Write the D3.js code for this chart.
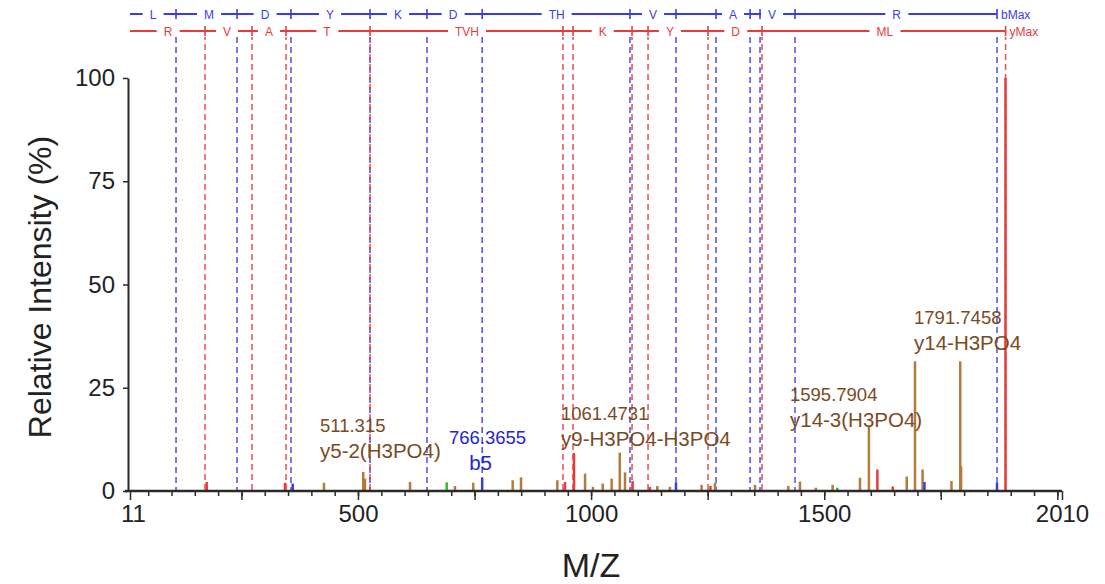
<!DOCTYPE html>
<html>
<head>
<meta charset="utf-8">
<script src="https://cdn.jsdelivr.net/npm/d3@7"></script>
<style>
  body { margin: 0; background: #fff; }
  text { font-family: "Liberation Sans", Arial, sans-serif; }
</style>
</head>
<body>
<script>
// peaks: [m/z, relative intensity %]
var brownPeaks = [[427, 2.0], [511.3, 4.6], [515, 3.0], [611.6, 2.2], [708, 1.2], [747.3, 2.0],
  [831.8, 2.6], [849.6, 3.3], [927.5, 2.6], [987, 4.2], [1004, 1.0], [1024.9, 1.8], [1044, 3.0],
  [1061.5, 9.3], [1072.7, 4.5], [1142, 1.2], [1169, 1.0], [1237, 1.5], [1265.8, 2.0], [1351.6, 1.5],
  [1423, 1.2], [1448, 2.3], [1482, 0.8], [1518, 1.5], [1576.7, 3.2], [1595.8, 15.6], [1677, 3.5],
  [1694.7, 31.4], [1711, 5.2], [1773, 2.4], [1791.7, 31.4], [1793.5, 6.0]];
var redPeaks = [[175.5, 2.2], [343.4, 2.0], [944, 2.2], [963.3, 9.2], [1089, 2.4], [1126, 1.0],
  [1256, 1.2], [1614, 5.2], [1647, 1.1], [1888.8, 100]];
var bluePeaks = [[360, 1.8], [766.4, 3.2], [1182, 2.0], [1715, 2.2], [1870.6, 2.0]];
var greenPeaks = [[690.3, 2.1], [1528, 0.8]];

// fragment ladder positions (m/z)
var bIons = [109.7, 240.5, 356.3, 525.8, 648, 766.4, 1083.4, 1182, 1268, 1341, 1362.3, 1437.4, 1870.6];
var yIons = [171.9, 272.7, 345.6, 525.8, 939.7, 961.2, 1087.8, 1122.1, 1250.8, 1366.6, 1889];
var bLabels = [["L", 60.3], ["M", 180.4], ["D", 300.5], ["Y", 440], ["K", 585.8], ["D", 703.8],
  ["TH", 926.2], ["V", 1132.8], ["A", 1304.4], ["V", 1388], ["R", 1655.4]];
var yLabels = [["R", 92.5], ["V", 219], ["A", 309], ["T", 433.5], ["TVH", 733.8], ["K", 1024.9],
  ["Y", 1169], ["D", 1310], ["ML", 1630]];

var annotations = [
  { mz: 418.5, inten: 14.3, lines: ["511.315", "y5-2(H3PO4)"], ion: "y", anchor: "start" },
  { mz: 778, inten: 11.4, lines: ["766.3655", "b5"], ion: "b", anchor: "middle" },
  { mz: 935.4, inten: 17.2, lines: ["1061.4731", "y9-H3PO4-H3PO4"], ion: "y", anchor: "start" },
  { mz: 1426.6, inten: 21.8, lines: ["1595.7904", "y14-3(H3PO4)"], ion: "y", anchor: "start" },
  { mz: 1692.6, inten: 40.4, lines: ["1791.7458", "y14-H3PO4"], ion: "y", anchor: "start" }
];

var xTickLabels = [11, 500, 1000, 1500, 2010];
var yTickLabels = [0, 25, 50, 75, 100];

var w = 1105, h = 584;
var axisColor = "#2a2a2a";
var blue = "#3c3ce6", red = "#e83c3c", brown = "#b47a3a", green = "#2fbf2f";

var svg = d3.select("body").append("svg")
  .attr("width", w).attr("height", h);

var x = d3.scaleLinear().domain([11, 2010]).range([130, 1062]);
var y = d3.scaleLinear().domain([0, 100]).range([491, 78]);

// dashed fragment lines
var dashTop = 37;
svg.selectAll(".bdash").data(bIons).enter().append("line")
  .attr("x1", d => x(d)).attr("x2", d => x(d))
  .attr("y1", dashTop).attr("y2", y(0))
  .attr("stroke", blue).attr("stroke-width", 1.6)
  .attr("stroke-dasharray", "6,4").attr("opacity", 0.85);
svg.selectAll(".ydash").data(yIons).enter().append("line")
  .attr("x1", d => x(d)).attr("x2", d => x(d))
  .attr("y1", dashTop).attr("y2", y(0))
  .attr("stroke", red).attr("stroke-width", 1.6)
  .attr("stroke-dasharray", "6,4").attr("stroke-dashoffset", 3).attr("opacity", 0.85);

// ladder
function ladder(ions, labels, ly, color, endText) {
  var g = svg.append("g");
  g.append("line")
    .attr("x1", x(11)).attr("x2", x(ions[ions.length - 1]))
    .attr("y1", ly).attr("y2", ly)
    .attr("stroke", color).attr("stroke-width", 1.8);
  g.selectAll(".tk").data(ions).enter().append("line")
    .attr("x1", d => x(d)).attr("x2", d => x(d))
    .attr("y1", ly - 5).attr("y2", ly + 5)
    .attr("stroke", color).attr("stroke-width", 1.6);
  labels.forEach(function (l) {
    var t = g.append("text")
      .attr("x", x(l[1])).attr("y", ly + 4.5)
      .attr("text-anchor", "middle")
      .attr("font-size", "12px")
      .attr("fill", color)
      .text(l[0]);
    var bb = t.node().getBBox();
    g.insert("rect", "text")
      .attr("x", bb.x - 7).attr("y", ly - 3)
      .attr("width", bb.width + 14).attr("height", 6)
      .attr("fill", "#fff");
  });
  g.append("text")
    .attr("x", x(ions[ions.length - 1]) + 4).attr("y", ly + 4.5)
    .attr("font-size", "12px").attr("fill", color)
    .text(endText);
}
ladder(bIons, bLabels, 14, blue, "bMax");
ladder(yIons, yLabels, 31, red, "yMax");

// peaks
function drawPeaks(data, color, sw) {
  svg.append("g").selectAll("line").data(data).enter().append("line")
    .attr("x1", d => x(d[0])).attr("x2", d => x(d[0]))
    .attr("y1", y(0)).attr("y2", d => y(d[1]))
    .attr("stroke", color).attr("stroke-width", sw);
}
drawPeaks(brownPeaks, brown, 2.5);
drawPeaks(greenPeaks, green, 2.5);
drawPeaks(bluePeaks, blue, 2.5);
drawPeaks(redPeaks, red, 2.5);

// axes
var xMinor = d3.range(50, 2001, 50);
var xMajor = d3.range(250, 2001, 250);
svg.append("g").attr("transform", `translate(0,${y(0)})`)
  .call(d3.axisBottom(x).tickValues(xMinor).tickSize(5).tickSizeOuter(0).tickFormat(""))
  .call(g => g.select(".domain").remove())
  .selectAll("line").attr("stroke", axisColor).attr("stroke-width", 1.5);
svg.append("g").attr("transform", `translate(0,${y(0)})`)
  .call(d3.axisBottom(x).tickValues(xMajor.concat([11, 2010])).tickSize(9).tickSizeOuter(0).tickFormat(""))
  .call(g => g.select(".domain").remove())
  .selectAll("line").attr("stroke", axisColor).attr("stroke-width", 1.5);
var xl = svg.append("g").attr("transform", `translate(0,${y(0)})`)
  .call(d3.axisBottom(x).tickValues(xTickLabels).tickSize(0).tickPadding(14).tickFormat(d3.format("d")));
xl.select(".domain").remove();
xl.selectAll("text").attr("font-size", "24px").attr("fill", "#222")
  .attr("font-family", "'Liberation Sans', Arial, sans-serif")
  .attr("dx", d => d === 11 ? 3 : 0);

svg.append("line")
  .attr("x1", 125).attr("x2", x(2010))
  .attr("y1", y(0)).attr("y2", y(0))
  .attr("stroke", axisColor).attr("stroke-width", 2.5);

var yl = svg.append("g").attr("transform", "translate(128,0)")
  .call(d3.axisLeft(y).tickValues(yTickLabels).tickSize(5).tickPadding(8).tickSizeOuter(0));
yl.select(".domain").attr("stroke", axisColor).attr("stroke-width", 2);
yl.selectAll("line").attr("stroke", axisColor).attr("stroke-width", 1.5);
yl.selectAll("text").attr("font-size", "24px").attr("fill", "#222")
  .attr("font-family", "'Liberation Sans', Arial, sans-serif");

// axis titles
svg.append("text")
  .attr("transform", "translate(51,287) rotate(-90)")
  .attr("text-anchor", "middle")
  .attr("font-size", "32px").attr("fill", "#222")
  .text("Relative Intensity (%)");
svg.append("text")
  .attr("x", 591).attr("y", 577)
  .attr("text-anchor", "middle")
  .attr("font-size", "34px").attr("fill", "#222")
  .text("M/Z");

// annotations: first line the m/z value, second line the ion name
annotations.forEach(function (a) {
  var t = svg.append("text")
    .attr("x", x(a.mz)).attr("y", y(a.inten))
    .attr("text-anchor", a.anchor)
    .attr("fill", a.ion === "b" ? "#2323d6" : "#7a4b1f");
  a.lines.forEach(function (s, i) {
    t.append("tspan")
      .attr("x", x(a.mz) + (i > 0 && a.anchor === "middle" ? -7 : 0))
      .attr("dy", i === 0 ? 0 : 26)
      .attr("font-size", i === 0 ? "18.5px" : "20.5px")
      .text(s);
  });
});
</script>
</body>
</html>
